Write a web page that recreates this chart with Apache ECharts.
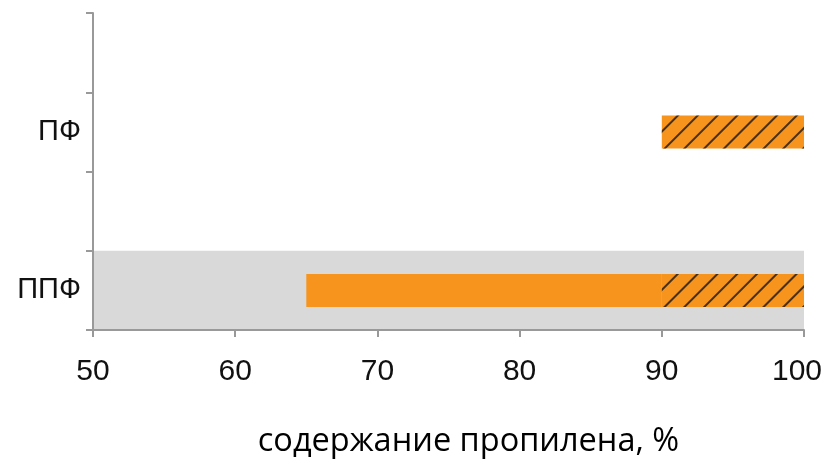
<!DOCTYPE html>
<html><head><meta charset="utf-8">
<script src="https://cdn.jsdelivr.net/npm/echarts@6/dist/echarts.min.js"></script>
<style>html,body{margin:0;padding:0;background:#fff}#c{width:823px;height:461px}</style>
</head><body><div id="c"></div>
<script>
const categories = ['ППФ', '', 'ПФ', ' '];
const solidStart = [65, null, null, null];
const hatchStart = [90, null, 90, null];
const rangeEnd = [100, null, 100, null];
const bandEnd = [100, null, null, null];
const xTicks = { min: 50, max: 100, interval: 10 };
const xTitle = 'содержание пропилена, %';

const baseVals = categories.map((c, i) => solidStart[i] != null ? solidStart[i] : hatchStart[i]);
const solidVals = categories.map((c, i) => solidStart[i] != null ? hatchStart[i] - solidStart[i] : null);
const hatchVals = categories.map((c, i) => rangeEnd[i] != null ? rangeEnd[i] - hatchStart[i] : null);

const orange = '#f7941d';
const axisGrey = '#999999';
const chart = echarts.init(document.getElementById('c'));
chart.setOption({
  animation: false,
  grid: { left: 93, right: 19, top: 13, bottom: 131, containLabel: false, outerBoundsMode: 'none' },
  xAxis: {
    type: 'value', min: xTicks.min, max: xTicks.max, interval: xTicks.interval, z: 10,
    axisLine: { show: true, lineStyle: { color: axisGrey, width: 2 } },
    axisTick: { show: true, length: 7, lineStyle: { color: axisGrey, width: 2 } },
    splitLine: { show: false },
    axisLabel: {
      fontFamily: 'Liberation Sans', fontSize: 30, color: '#111', margin: 27,
      formatter: v => v === xTicks.max ? '{last|' + v + '}' : String(v),
      rich: { last: { fontFamily: 'Liberation Sans', fontSize: 30, color: '#111', padding: [0, 14, 0, 0] } }
    },
    name: xTitle, nameLocation: 'middle', nameGap: 95,
    nameTextStyle: { fontFamily: 'Open Sans', fontSize: 32.5, color: '#000', padding: [0, 0, 0, 40] }
  },
  yAxis: [{
    type: 'category', data: categories, z: 10,
    axisLine: { show: true, lineStyle: { color: axisGrey, width: 2 } },
    axisTick: { show: true, length: 7, lineStyle: { color: axisGrey, width: 2 } },
    axisLabel: { fontFamily: 'Liberation Sans', fontSize: 29, color: '#111', margin: 12 }
  }, {
    type: 'category', data: categories, show: false
  }],
  series: [
    { type: 'bar', yAxisIndex: 1, data: bandEnd, barWidth: '100%', itemStyle: { color: '#d9d9d9' }, silent: true },
    { type: 'bar', yAxisIndex: 0, stack: 'm', data: baseVals, barWidth: 33, itemStyle: { color: 'rgba(0,0,0,0)' } },
    { type: 'bar', yAxisIndex: 0, stack: 'm', data: solidVals, barWidth: 33, itemStyle: { color: orange } },
    { type: 'bar', yAxisIndex: 0, stack: 'm', data: hatchVals, barWidth: 33,
      itemStyle: { color: orange, decal: { symbol: 'rect', color: 'rgba(40,30,20,0.85)', dashArrayX: [1, 0], dashArrayY: [2, 12], rotation: -Math.PI / 4 } } }
  ]
});
</script></body></html>
